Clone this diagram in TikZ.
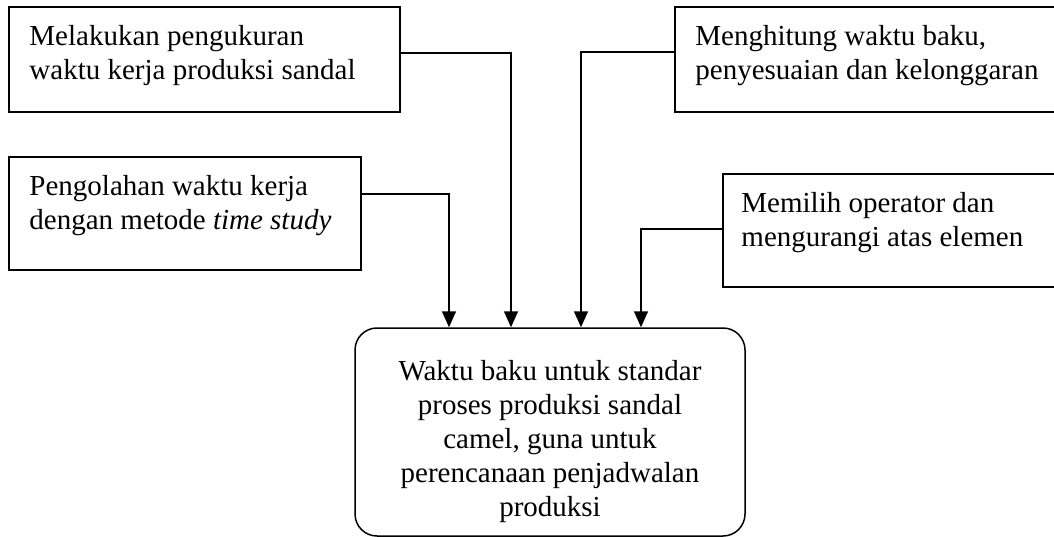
\documentclass[tikz,border=0pt]{standalone}
\usepackage{fontspec}
\setmainfont{Liberation Serif}
\usepackage{tikz}
\usetikzlibrary{calc, arrows.meta}

\begin{document}
\begin{tikzpicture}[x=1pt, y=-1pt,
    kotak/.style={draw, line width=1.5pt, inner sep=0pt},
    teks/.style={inner sep=0pt, anchor=north west, align=left, font=\fontsize{29}{34}\selectfont},
    panah/.style={line width=1.5pt, -{Triangle[length=16pt, width=14pt]}}]
  \useasboundingbox (0,0) rectangle (1054,537);
  % Kotak masukan (kiri)
  \node[kotak, minimum width=391pt, minimum height=105pt] (ukur) at (204.5,59.5) {};
  \node[teks] (ukurteks) at ([shift={(21pt,-19pt)}]ukur.north west) {Melakukan pengukuran\\waktu kerja produksi sandal};
  \node[kotak, minimum width=352pt, minimum height=113pt] (olah) at (185,213.5) {};
  \node[teks] (olahteks) at ([shift={(21pt,-19pt)}]olah.north west) {Pengolahan waktu kerja\\dengan metode \textit{time study}};
  % Kotak masukan (kanan)
  \node[kotak, minimum width=400pt, minimum height=105pt] (hitung) at (875,59.5) {};
  \node[teks] (hitungteks) at ([shift={(21pt,-19pt)}]hitung.north west) {Menghitung waktu baku,\\penyesuaian dan kelonggaran};
  \node[kotak, minimum width=360pt, minimum height=113pt] (pilih) at (903,230.5) {};
  \node[teks] (pilihteks) at ([shift={(19pt,-19pt)}]pilih.north west) {Memilih operator dan\\mengurangi atas elemen};
  % Kotak hasil
  \node[kotak, rounded corners=22pt, minimum width=390pt, minimum height=208pt] (baku) at (550,432) {};
  \node[inner sep=0pt, align=center, font=\fontsize{29}{34}\selectfont] (bakuteks) at ([yshift=-10pt]baku.center)
        {Waktu baku untuk standar\\proses produksi sandal\\camel, guna untuk\\perencanaan penjadwalan\\produksi};
  % Panah
  \draw[panah] ([yshift=19.5pt]olah.east) -| ([xshift=-101pt]baku.north);
  \draw[panah] ([yshift=6.5pt]ukur.east) -| ([xshift=-39pt]baku.north);
  \draw[panah] ([yshift=7.5pt]hitung.west) -| ([xshift=31pt]baku.north);
  \draw[panah] ([yshift=1.5pt]pilih.west) -| ([xshift=91pt]baku.north);
\end{tikzpicture}
\end{document}
